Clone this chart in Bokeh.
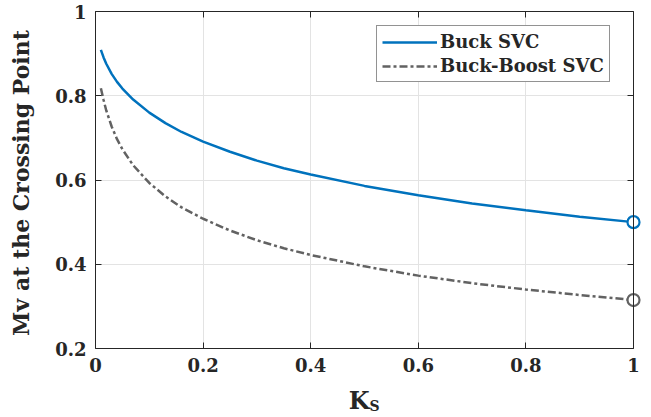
from bokeh.plotting import figure
from bokeh.models import LinearAxis, FixedTicker, Range1d, Legend, LegendItem, Label, Grid
from bokeh.embed import file_html
from bokeh.resources import INLINE

# Data
ks = [0.01, 0.015, 0.02, 0.03, 0.04, 0.05, 0.07, 0.1, 0.13, 0.16, 0.2, 0.25, 0.3, 0.35, 0.4,
      0.5, 0.6, 0.7, 0.8, 0.9, 1.0]
buck = [0.909, 0.891, 0.876, 0.852, 0.833, 0.817, 0.791, 0.760, 0.735, 0.714, 0.691, 0.667,
        0.646, 0.628, 0.613, 0.586, 0.564, 0.544, 0.528, 0.513, 0.500]
buck_boost = [0.818, 0.790, 0.765, 0.727, 0.697, 0.673, 0.635, 0.593, 0.561, 0.535, 0.508,
              0.480, 0.457, 0.438, 0.422, 0.395, 0.373, 0.355, 0.340, 0.327, 0.315]
x_ticks = [0, 0.2, 0.4, 0.6, 0.8, 1]
x_tick_labels = ["0", "0.2", "0.4", "0.6", "0.8", "1"]
y_ticks = [0.2, 0.4, 0.6, 0.8, 1]
y_tick_labels = ["0.2", "0.4", "0.6", "0.8", "1"]
series_names = ["Buck SVC", "Buck-Boost SVC"]
x_label_main, x_label_sub = "K", "S"
y_label = "Mv at the Crossing Point"

X_MIN, X_MAX = 0, 1
Y_MIN, Y_MAX = 0.2, 1

BLUE = "#0072BD"
GRAY = "#626262"
INK = "#262626"
FONT = "DejaVu Serif"

W, H = 651, 417
# axes box in pixels: left 95, top 11, 538 x 337. The drawing frame covers the whole
# canvas and every axis is pinned to the box, so nothing outside the box is clipped.
BOX_L, BOX_T, BOX_W, BOX_H = 95, 11, 538, 337
PX_X = BOX_W / (X_MAX - X_MIN)
PX_Y = BOX_H / (Y_MAX - Y_MIN)


def dx(px):
    return X_MIN + (px - BOX_L) / PX_X


def dy(py):
    return Y_MAX - (py - BOX_T) / PX_Y


p = figure(width=W, height=H, output_backend="svg", toolbar_location=None,
           x_range=Range1d(dx(0), dx(W)), y_range=Range1d(dy(H), dy(0)),
           min_border_left=0, min_border_right=0, min_border_top=0, min_border_bottom=0,
           x_axis_location=None, y_axis_location=None)
p.outline_line_color = None
p.background_fill_color = "white"
p.border_fill_color = "white"


def base_style(ax):
    ax.axis_line_color = INK
    ax.axis_line_width = 1
    ax.major_tick_in = 6
    ax.major_tick_out = 0
    ax.minor_tick_in = 6
    ax.minor_tick_out = 0
    ax.major_tick_line_color = INK
    ax.minor_tick_line_color = INK
    ax.major_label_text_font = FONT
    ax.major_label_text_font_style = "bold"
    ax.major_label_text_color = INK
    ax.major_label_text_font_size = "18px"


xb = LinearAxis(ticker=FixedTicker(ticks=x_ticks),
                major_label_overrides={t: l for t, l in zip(x_ticks, x_tick_labels)},
                bounds=(X_MIN, X_MAX), fixed_location=Y_MIN)
base_style(xb)
xb.major_label_standoff = 9
p.add_layout(xb, "below")

yl = LinearAxis(ticker=FixedTicker(ticks=y_ticks),
                major_label_overrides={t: l for t, l in zip(y_ticks, y_tick_labels)},
                bounds=(Y_MIN, Y_MAX), fixed_location=X_MIN)
base_style(yl)
yl.major_label_standoff = 9
p.add_layout(yl, "left")

# box edges with inward ticks (minor ticks only, so no labels are drawn)
xa = LinearAxis(ticker=FixedTicker(ticks=[], minor_ticks=x_ticks), bounds=(X_MIN, X_MAX),
                fixed_location=Y_MAX)
base_style(xa)
p.add_layout(xa, "above")
yr = LinearAxis(ticker=FixedTicker(ticks=[], minor_ticks=y_ticks), bounds=(Y_MIN, Y_MAX),
                fixed_location=X_MAX)
base_style(yr)
p.add_layout(yr, "right")

GRID = "#e3e3e3"
if "cross_bounds" in Grid.properties():
    p.xgrid.ticker = FixedTicker(ticks=x_ticks)
    p.ygrid.ticker = FixedTicker(ticks=y_ticks)
    p.xgrid.grid_line_color = GRID
    p.ygrid.grid_line_color = GRID
    p.xgrid.cross_bounds = (Y_MIN, Y_MAX)
    p.ygrid.cross_bounds = (X_MIN, X_MAX)
else:
    p.xgrid.visible = False
    p.ygrid.visible = False
    p.segment(x0=x_ticks, x1=x_ticks, y0=[Y_MIN] * len(x_ticks), y1=[Y_MAX] * len(x_ticks),
              line_color=GRID, line_width=1, level="underlay")
    p.segment(x0=[X_MIN] * len(y_ticks), x1=[X_MAX] * len(y_ticks), y0=y_ticks, y1=y_ticks,
              line_color=GRID, line_width=1, level="underlay")

r1 = p.line(ks, buck, line_color=BLUE, line_width=2.5)
r2 = p.line(ks, buck_boost, line_color=GRAY, line_width=2.5, line_dash="8 3 3 3")
p.scatter([ks[-1]], [buck[-1]], size=12, fill_color="white", line_color=BLUE, line_width=2.2)
p.scatter([ks[-1]], [buck_boost[-1]], size=12, fill_color="white", line_color=GRAY, line_width=2.2)

legend = Legend(items=[LegendItem(label=series_names[0], renderers=[r1]),
                       LegendItem(label=series_names[1], renderers=[r2])],
                location=(376, H - 82))
legend.label_text_font = FONT
legend.label_text_font_style = "bold"
legend.label_text_font_size = "18px"
legend.label_text_color = INK
legend.glyph_width = 55
legend.glyph_height = 20
legend.label_height = 20
legend.label_standoff = 3
legend.padding = 5
legend.spacing = 3
legend.margin = 0
legend.border_line_color = INK
legend.border_line_width = 1
legend.background_fill_alpha = 1
p.add_layout(legend, "center")

# axis titles
p.add_layout(Label(x=dx(20), y=dy(182.5), text=y_label, angle=90, angle_units="deg",
                   text_font=FONT, text_font_style="bold", text_font_size="22px",
                   text_color=INK, text_align="center", text_baseline="middle"))
p.add_layout(Label(x=dx(369), y=dy(400), text=x_label_main,
                   text_font=FONT, text_font_style="bold", text_font_size="24px",
                   text_color=INK, text_align="right", text_baseline="middle"))
p.add_layout(Label(x=dx(369), y=dy(405), text=x_label_sub,
                   text_font=FONT, text_font_style="bold", text_font_size="14px",
                   text_color=INK, text_align="left", text_baseline="middle"))

open("out.html", "w").write(file_html(p, INLINE))
